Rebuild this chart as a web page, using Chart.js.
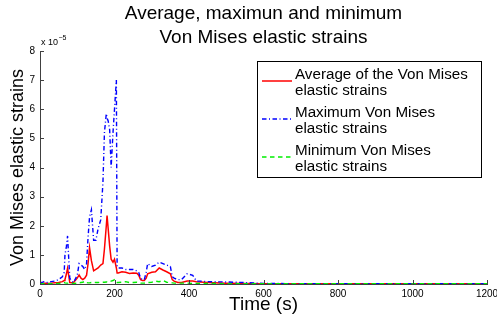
<!DOCTYPE html>
<html>
<head>
<meta charset="utf-8">
<script src="https://cdn.jsdelivr.net/npm/chart.js@4/dist/chart.umd.min.js"></script>
<style>
  html, body { margin: 0; padding: 0; background: #fff; }
  #wrap { width: 497px; height: 323px; position: relative; }
</style>
</head>
<body>
<div id="wrap"><canvas id="c" width="497" height="323"></canvas></div>
<script>
// Time (s)
const times = [0,5,10,15,20,30,40,50,60,65,67,71,74,77,80,85,90,100,105,110,115,120,125,129,133,138,144,150,156,163,169,173,178,180,183,187,191,196,200,205,207,210,220,230,240,250,260,265,270,275,280,285,289,300,310,320,330,340,350,355,360,370,380,395,410,420,430,450,500,550,600,700,800,900,1000,1100,1200];
// Strains in units of 1e-5
const avgStrain = [0.02,0.02,0.03,0.03,0.02,
  0.03,0.04,0.05,0.08,0.12,
  0.15,0.35,0.54,0.30,0.05,
  0.04,0.05,0.20,0.31,0.20,
  0.15,0.20,0.30,0.70,1.25,
  0.80,0.45,0.50,0.55,0.65,
  0.70,1.20,2.00,2.35,1.90,
  1.30,0.85,0.75,0.85,0.55,
  0.38,0.38,0.42,0.40,0.36,
  0.38,0.37,0.30,0.15,0.12,
  0.12,0.20,0.35,0.40,0.42,
  0.55,0.48,0.42,0.35,0.15,
  0.10,0.05,0.05,0.10,0.10,
  0.08,0.07,0.05,0.03,0.02,
  0.01,0.01,0.01,0.01,0.01,
  0.01,0.01];
const maxStrain = [0.05,0.05,0.08,0.08,0.05,
  0.08,0.10,0.15,0.25,0.40,
  1.00,1.30,1.65,0.90,0.20,
  0.10,0.05,0.30,0.70,0.65,
  0.60,0.50,0.70,1.60,2.30,
  2.55,1.50,1.50,1.90,2.20,
  3.50,5.20,5.85,5.70,5.60,
  5.30,4.00,5.20,6.00,7.00,
  0.60,0.55,0.55,0.50,0.50,
  0.50,0.45,0.40,0.20,0.15,
  0.15,0.40,0.70,0.60,0.65,
  0.75,0.70,0.65,0.60,0.25,
  0.20,0.15,0.15,0.35,0.30,
  0.10,0.10,0.08,0.07,0.05,
  0.02,0.01,0.01,0.01,0.01,
  0.01,0.01];
const minStrain = [0.01,0.01,0.01,0.01,0.01,
  0.01,0.02,0.02,0.03,0.05,
  0.04,0.03,0.03,0.02,0.02,
  0.02,0.02,0.03,0.04,0.05,
  0.06,0.10,0.05,0.04,0.04,
  0.05,0.06,0.05,0.05,0.06,
  0.06,0.06,0.07,0.07,0.06,
  0.08,0.10,0.12,0.15,0.10,
  0.05,0.05,0.06,0.08,0.05,
  0.05,0.06,0.04,0.03,0.03,
  0.03,0.04,0.05,0.06,0.10,
  0.08,0.12,0.06,0.05,0.04,
  0.03,0.03,0.03,0.03,0.02,
  0.02,0.02,0.02,0.01,0.01,
  0.01,0.01,0.01,0.01,0.01,
  0.01,0.01];

const seriesLabels = [
  ['Average of the Von Mises', 'elastic strains'],
  ['Maximum Von Mises', 'elastic strains'],
  ['Minimum Von Mises', 'elastic strains']
];
const titleLines = ['Average, maximun and minimum', 'Von Mises elastic strains'];
const xAxisTitle = 'Time (s)';
const yAxisTitle = 'Von Mises elastic strains';
const xRange = [0, 1200], xStep = 200;
const yRange = [0, 8], yStep = 1;

const FONT = "'Liberation Sans', Arial, Helvetica, sans-serif";
const AXIS_COLOR = '#404040';

const toPts = (arr) => times.map((t, i) => ({x: t, y: arr[i]}));

const innerTicks = {
  id: 'innerTicks',
  afterDraw(chart) {
    const {ctx, chartArea: a, scales: {x, y}} = chart;
    ctx.save();
    ctx.strokeStyle = AXIS_COLOR;
    ctx.lineWidth = 1;
    ctx.beginPath();
    x.ticks.forEach(t => {
      const px = Math.round(x.getPixelForValue(t.value)) + 0.5;
      ctx.moveTo(px, a.bottom); ctx.lineTo(px, a.bottom - 4);
    });
    y.ticks.forEach(t => {
      const py = Math.round(y.getPixelForValue(t.value)) + 0.5;
      ctx.moveTo(a.left, py); ctx.lineTo(a.left + 4, py);
    });
    ctx.stroke();
    // exponent label
    ctx.fillStyle = '#000';
    ctx.textBaseline = 'alphabetic';
    ctx.textAlign = 'left';
    ctx.font = '9px ' + FONT;
    ctx.fillText('x 10', a.left + 1, a.top - 6);
    const w = ctx.measureText('x 10').width;
    ctx.font = '7px ' + FONT;
    ctx.fillText('\u22125', a.left + 1 + w + 0.5, a.top - 11);

    // legend
    const bx = 257.5, by = 61.5, bw = 224, bh = 116;
    ctx.fillStyle = '#fff';
    ctx.fillRect(bx, by, bw, bh);
    ctx.strokeStyle = '#000';
    ctx.lineWidth = 1;
    ctx.setLineDash([]);
    ctx.strokeRect(bx, by, bw, bh);
    chart.data.datasets.forEach((ds, i) => {
      const cy = 81 + i * 38;
      ctx.save();
      ctx.strokeStyle = ds.borderColor;
      ctx.lineWidth = ds.borderWidth;
      ctx.setLineDash(ds.borderDash || []);
      ctx.beginPath();
      ctx.moveTo(262, cy); ctx.lineTo(292, cy);
      ctx.stroke();
      ctx.restore();
      ctx.fillStyle = '#000';
      ctx.font = '15.2px ' + FONT;
      ctx.textBaseline = 'alphabetic';
      ctx.textAlign = 'left';
      const lines = ds.label;
      ctx.fillText(lines[0], 295, cy - 2.5);
      ctx.fillText(lines[1], 295, cy + 14.2);
    });
    ctx.restore();
  }
};

new Chart(document.getElementById('c'), {
  type: 'line',
  data: {
    datasets: [
      { label: seriesLabels[0], data: toPts(avgStrain), borderColor: '#ff0000', borderWidth: 1.5, pointRadius: 0, tension: 0, fill: false, order: 3 },
      { label: seriesLabels[1], data: toPts(maxStrain), borderColor: '#0000ff', borderWidth: 1.4, borderDash: [4.5, 2.5, 1, 2.5], pointRadius: 0, tension: 0, fill: false, order: 2 },
      { label: seriesLabels[2], data: toPts(minStrain), borderColor: '#00ee00', borderWidth: 1.4, borderDash: [4.5, 3.5], pointRadius: 0, tension: 0, fill: false, order: 1 }
    ]
  },
  options: {
    responsive: false,
    animation: false,
    devicePixelRatio: 1,
    layout: { padding: { left: 0, right: 0, top: 0, bottom: 0 } },
    plugins: {
      legend: { display: false },
      tooltip: { enabled: false },
      title: {
        display: true,
        text: titleLines,
        fullSize: false,
        color: '#000',
        font: { family: FONT, size: 19, weight: 'normal', lineHeight: 1.3 },
        padding: { top: 1, bottom: 0.6 }
      }
    },
    scales: {
      x: {
        type: 'linear',
        min: xRange[0], max: xRange[1],
        afterFit(s) { s.height = 39; s.paddingRight = 10; s.paddingLeft = 0; },
        ticks: { stepSize: xStep, color: '#000', font: { family: FONT, size: 10 }, padding: 4, maxRotation: 0,
                 callback: (v) => String(v) },
        grid: { display: true, drawOnChartArea: false, drawTicks: false },
        border: { display: true, color: AXIS_COLOR, width: 1 },
        title: { display: true, text: xAxisTitle, color: '#000', font: { family: FONT, size: 19 }, padding: { top: 0, bottom: 6.6 } }
      },
      y: {
        type: 'linear',
        min: yRange[0], max: yRange[1],
        afterFit(s) { s.width = 40; },
        ticks: { stepSize: yStep, color: '#000', font: { family: FONT, size: 10 }, padding: 5,
                 callback: (v) => String(v) },
        grid: { display: true, drawOnChartArea: false, drawTicks: false },
        border: { display: true, color: AXIS_COLOR, width: 1 },
        title: { display: true, text: yAxisTitle, color: '#000', font: { family: FONT, size: 18 }, padding: { top: 7, bottom: 0 } }
      }
    }
  },
  plugins: [innerTicks]
});
</script>
</body>
</html>
